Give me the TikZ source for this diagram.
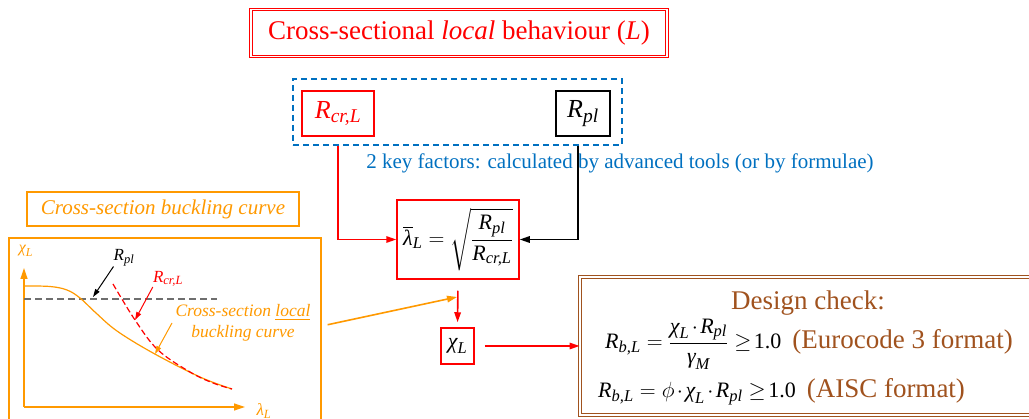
\RequirePackage{fix-cm}
\documentclass[tikz,border=0pt]{standalone}
\usepackage{amsmath}
\usepackage{fontspec}
\setmainfont{Liberation Serif}
\usetikzlibrary{arrows.meta}
\DeclareMathSizes{26}{26}{19.5}{15}
\DeclareMathSizes{22}{22}{16.5}{13}
\DeclareMathSizes{17}{17}{12.5}{10}
\DeclareMathSizes{16}{16}{12}{9}
\definecolor{cred}{RGB}{255,0,0}
\definecolor{corange}{RGB}{255,153,0}
\definecolor{cblue}{RGB}{0,112,192}
\definecolor{cbrown}{RGB}{160,82,30}
\definecolor{cgray}{RGB}{110,110,110}
\newcommand\iv[1]{\text{\itshape #1}}
\newcommand\bigtxt{\fontsize{27}{30}\selectfont}
\newcommand\cdt{\mskip2mu{\cdot}\mskip2mu}
\tikzset{
  dbox/.style={double, double distance=1.6pt, line width=0.9pt, inner sep=0pt},
  sbox/.style={draw, line width=1.5pt, inner sep=0pt},
  arr/.style={-{Triangle[length=10pt,width=6.5pt]}},
  sarr/.style={-{Triangle[length=8pt,width=5pt]}},
  conn/.style={line width=1.6pt, arr},
}
\begin{document}
\begin{tikzpicture}[x=1pt,y=-1pt, every node/.style={inner sep=0pt}]
\useasboundingbox (0,0) rectangle (1029,419);

% title
\node[dbox, draw=cred, text=cred, minimum width=416pt, minimum height=47pt,
      font=\bigtxt] (title) at (459,33)
      {Cross-sectional \textit{local} behaviour (\textit{L})};

% key factor box
\node[draw=cblue, line width=1.5pt, dash pattern=on 6pt off 4pt,
      minimum width=329pt, minimum height=66pt] (keybox) at (457.5,112) {};
\node[sbox, draw=cred, text=cred, minimum width=72pt, minimum height=45pt,
      font=\fontsize{26}{30}\selectfont] (rcr) at (338,113.5) {$\iv{R}_{\iv{cr,L}}$};
\node[sbox, draw=black, minimum width=54pt, minimum height=45pt,
      font=\fontsize{26}{30}\selectfont] (rpl) at (583,113.5) {$\iv{R}_{\iv{pl}}$};
\node[text=cblue, font=\fontsize{21}{24}\selectfont] (keytxt) at (620,163)
      {2 key factors: calculated by advanced tools (or by formulae)};

% lambda box
\node[sbox, draw=cred, minimum width=122pt, minimum height=79pt,
      font=\fontsize{22}{26}\selectfont] (lam) at (458,239.5)
      {$\overline{\iv{λ}}_{\iv{L}} = \sqrt{\dfrac{\iv{R}_{\iv{pl}}}{\iv{R}_{\iv{cr,L}}}}$};
% chi box
\node[sbox, draw=cred, minimum width=33pt, minimum height=36pt,
      font=\fontsize{22}{26}\selectfont] (chi) at (457.5,346) {$\iv{χ}_{\iv{L}}$};

% design box
\node[dbox, draw=cbrown, minimum width=460pt, minimum height=138pt] (design) at (810,346) {};
\node[text=cbrown, font=\bigtxt] (dc) at (808,303) {Design check:};
\node[anchor=west, font=\fontsize{22}{26}\selectfont] (eq1) at (605,344)
  {$\iv{R}_{\iv{b,L}} = \dfrac{\iv{χ}_{\iv{L}}\cdt \iv{R}_{\iv{pl}}}{\iv{γ}_{\iv{M}}} \geq\! \text{1.0}$\ \ \textcolor{cbrown}{\bigtxt(Eurocode 3 format)}};
\node[anchor=west, font=\fontsize{22}{26}\selectfont] (eq2) at (598,392)
  {$\iv{R}_{\iv{b,L}} = \phi\cdt \iv{χ}_{\iv{L}}\cdt \iv{R}_{\iv{pl}} \geq\! \text{1.0}$\ \ \textcolor{cbrown}{\bigtxt(AISC format)}};

% left: curve
\node[sbox, draw=corange, text=corange, minimum width=272pt, minimum height=34pt,
      font=\fontsize{21}{24}\selectfont\itshape] (ctitle) at (163,209) {Cross-section buckling curve};
\node[sbox, draw=corange, minimum width=312pt, minimum height=192pt] (plot) at (165,334) {};

\coordinate (O) at (24,407);
\coordinate (ytip) at (24,268);
\coordinate (xtip) at (245,407);
\draw[corange, line width=1.2pt, -{Triangle[length=11pt,width=7pt]}] (O) -- (ytip);
\draw[corange, line width=1.2pt, -{Triangle[length=11pt,width=7pt]}] (O) -- (xtip);
\node[text=corange, font=\fontsize{16}{18}\selectfont] (chil) at (26,251) {$\iv{χ}_{\iv{L}}$};
\node[text=corange, font=\fontsize{17}{20}\selectfont] (laml) at (264,411) {$\iv{λ}_{\iv{L}}$};

\draw[cgray, line width=1.5pt, dash pattern=on 7pt off 4pt] (24,299) -- (217,299);
\draw[corange, line width=1.2pt] plot[smooth, tension=0.6] coordinates
  {(24,286) (50,286.5) (67,290) (80,298) (96,313) (117,331) (153,353) (200,377) (232,389)};
\draw[cred, line width=1.2pt, dash pattern=on 6pt off 3pt] plot[smooth, tension=0.6] coordinates
  {(113,284) (135,320) (158,350) (190,372) (213,383) (232,389)};

\node[font=\fontsize{17}{20}\selectfont] (rpll) at (124,258) {$\iv{R}_{\iv{pl}}$};
\coordinate (rpltip) at (93,297);
\draw[black, line width=1pt, sarr] (rpll.south west) -- (rpltip);
\node[text=cred, font=\fontsize{17}{20}\selectfont] (rcrl) at (168,279) {$\iv{R}_{\iv{cr,L}}$};
\coordinate (rcrtip) at (135,320);
\draw[cred, line width=1pt, sarr] (rcrl.south west) -- (rcrtip);
\node[text=corange, align=center, font=\fontsize{17.5}{21}\selectfont\itshape] (locl) at (243,323)
  {Cross-section \underline{local}\\buckling curve};
\coordinate (loctip) at (155,354);
\draw[corange, line width=1pt, sarr] (172,323) -- (loctip);

% connectors
\draw[cred, conn] (rcr.south |- keybox.south) |- (lam.west);
\draw[black, conn] ([xshift=-5pt]rpl.south |- keybox.south) |- (lam.east);
\draw[cred, conn, shorten <=11pt, shorten >=5pt] (lam.south) -- (chi.north);
\draw[cred, conn, shorten <=10pt] (chi.east) -- (design.west);
\coordinate (oend) at (457,297);
\draw[corange, conn, shorten <=6pt] (plot.east |- oend) ++(0,29) -- (oend);
\end{tikzpicture}
\end{document}
